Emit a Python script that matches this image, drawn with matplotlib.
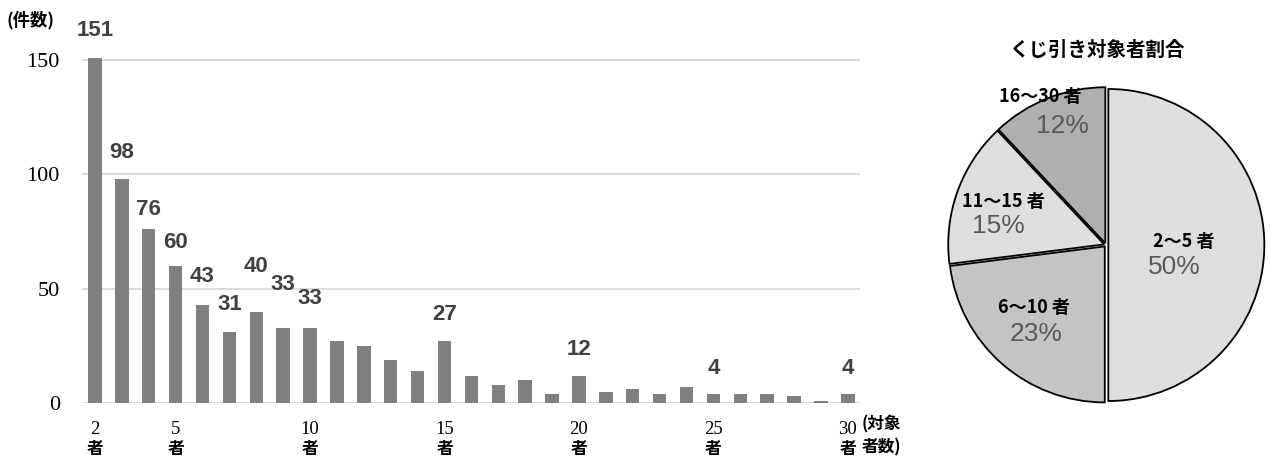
import matplotlib
matplotlib.use("Agg")
import matplotlib.pyplot as plt
import numpy as np

# ---------------- data ----------------
counts_x = list(range(2, 31))
counts = [151, 98, 76, 60, 43, 31, 40, 33, 33,
          27, 25, 19, 14, 27,
          12, 8, 10, 4, 12, 5, 6, 4, 7, 4, 4, 4, 3, 1, 4]
labeled_x = [2, 3, 4, 5, 6, 7, 8, 9, 10, 15, 20, 25, 30]
xtick_vals = [2, 5, 10, 15, 20, 25, 30]
ytick_vals = [0, 50, 100, 150]

pie_labels = ["2～5 者", "6～10 者", "11～15 者", "16～30 者"]
pie_pct = [50, 23, 15, 12]
pie_colors = ["#dedede", "#c4c4c4", "#dedede", "#afafaf"]
pie_title = "くじ引き対象者割合"

# label lift above bar (data units), a few hand-placed in the original
label_lift = {2: 11.7, 3: 11.7, 4: 8.4, 5: 10, 6: 12.1, 7: 11.9, 8: 19.5,
              9: 18.6, 10: 12.9, 15: 11.9, 20: 11.6, 25: 11.3, 30: 11.3}

JP = ["Noto Sans CJK JP", "DejaVu Sans"]
SANS = ["Liberation Sans", "DejaVu Sans"]
SERIF = ["Liberation Serif", "DejaVu Serif"]

fig = plt.figure(figsize=(12.71, 4.57), dpi=100)

# ---------------- bar chart ----------------
ax = fig.add_axes([82 / 1271, 54 / 457, (860 - 82) / 1271, 366 / 457])
ax.bar(counts_x, counts, width=0.5, color="#7f7f7f", zorder=2)
ax.set_xlim(1.52, 30.45)
ax.set_ylim(0, 160)
ax.set_yticks(ytick_vals)
ax.set_yticklabels([str(v) for v in ytick_vals], fontfamily=SERIF, fontsize=16)
ax.yaxis.grid(True, color="#d9d9d9", lw=1.3, zorder=0)
ax.tick_params(axis="y", length=0, pad=16)
ax.set_xticks([])
for s in ax.spines.values():
    s.set_visible(False)

for x, v in zip(counts_x, counts):
    if x in labeled_x:
        ax.text(x, v + label_lift[x], str(v), ha="center", va="center", fontsize=16,
                fontweight="bold", color="#404040", family=SANS, clip_on=False)

trans = matplotlib.transforms.blended_transform_factory(ax.transData, fig.transFigure)
for x in xtick_vals:
    ax.text(x, 1 - 429 / 457, str(x), transform=trans, ha="center", va="center",
            fontsize=13.5, family=SERIF)
    ax.text(x, 1 - 449 / 457, "者", transform=trans, ha="center", va="center",
            fontsize=12, fontweight="bold", family=JP)

fig.text(6 / 1271, 1 - 20 / 457, "(件数)", ha="left", va="center",
         fontsize=12.5, fontweight="bold", family=JP)
fig.text(862 / 1271, 1 - 424 / 457, "(対象", ha="left", va="center",
         fontsize=12, fontweight="bold", family=JP)
fig.text(862 / 1271, 1 - 447 / 457, "者数)", ha="left", va="center",
         fontsize=12, fontweight="bold", family=JP)

# ---------------- pie chart ----------------
cx, cy, r = 1106, 245, 156
half = r * 1.09
pax = fig.add_axes([(cx - half) / 1271, (457 - cy - half) / 457,
                    2 * half / 1271, 2 * half / 457])
wedges, _ = pax.pie(pie_pct, colors=pie_colors, startangle=90, counterclock=False,
                    explode=[0.015, 0.012, 0.012, 0.012],
                    wedgeprops=dict(edgecolor="black", linewidth=1.3))
pax.set_xlim(-1.09, 1.09)
pax.set_ylim(-1.09, 1.09)
pax.set_aspect("equal")
pax.axis("off")

label_pos = [(0.50, 0.02), (-0.46, -0.40), (-0.66, 0.28), (-0.42, 0.95)]
pct_pos = [(0.44, -0.14), (-0.45, -0.57), (-0.69, 0.12), (-0.28, 0.76)]
for lab, p, lp, pp in zip(pie_labels, pie_pct, label_pos, pct_pos):
    pax.text(lp[0], lp[1], lab, ha="center", va="center", fontsize=13,
             fontweight="bold", family=JP, color="black")
    pax.text(pp[0], pp[1], f"{p}%", ha="center", va="center", fontsize=19,
             family=SANS, color="#595959")

fig.text(1097 / 1271, 1 - 50 / 457, pie_title, ha="center", va="center",
         fontsize=14, fontweight="bold", family=JP)

fig.savefig("out.png", dpi=100)
